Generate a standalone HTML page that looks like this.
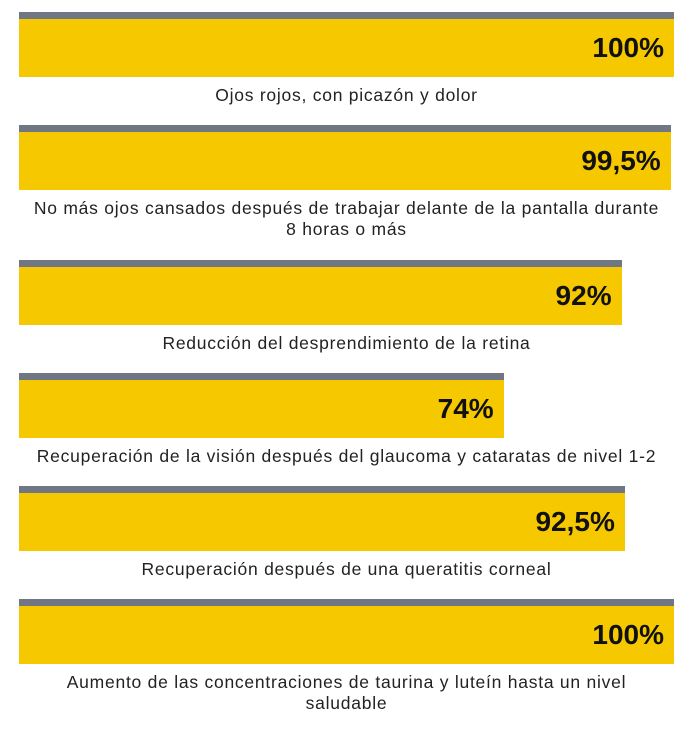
<!DOCTYPE html>
<html><head><meta charset="utf-8"><style>
body{margin:0;background:#fff;width:700px;height:738px;overflow:hidden;font-family:"Liberation Sans",sans-serif;}
#chart{position:relative;width:700px;height:738px;}
.stripe{position:absolute;height:7px;background:#717684;}
.bar{position:absolute;height:58px;background:#f5c800;}
.val{position:absolute;font-weight:bold;font-size:28px;color:#111;text-align:right;line-height:58px;}
.lab{position:absolute;left:9px;width:675px;text-align:center;font-size:17.5px;letter-spacing:0.75px;color:#222;line-height:21px;white-space:nowrap;}
</style></head><body>
<div id="chart"></div>
<script>
const categories=["Ojos rojos, con picazón y dolor","No más ojos cansados después de trabajar delante de la pantalla durante|8 horas o más","Reducción del desprendimiento de la retina","Recuperación de la visión después del glaucoma y cataratas de nivel 1-2","Recuperación después de una queratitis corneal","Aumento de las concentraciones de taurina y luteín hasta un nivel|saludable"];
const values=[100,99.5,92,74,92.5,100];
const valueLabels=["100%","99,5%","92%","74%","92,5%","100%"];
const tops=[12,125,260,373,486,599];
const X0=19,W=655;
function xScale(v){return W*v/100;}
const c=document.getElementById('chart');
values.forEach((v,i)=>{
  const w=xScale(v),t=tops[i];
  const s=document.createElement('div');s.className='stripe';
  s.style.cssText=`left:${X0}px;top:${t}px;width:${w}px`;
  
  
  c.appendChild(s);
  const b=document.createElement('div');b.className='bar';
  b.style.cssText=`left:${X0}px;top:${t+7}px;width:${w}px`;
  
  
  c.appendChild(b);
  const l=document.createElement('div');l.className='val';
  l.style.cssText=`left:${X0}px;top:${t+7}px;width:${w-10}px`;
  l.textContent=valueLabels[i];
  
  
  c.appendChild(l);
  const lb=document.createElement('div');lb.className='lab';
  lb.style.top=(t+73)+'px';
  categories[i].split('|').forEach((line,k)=>{
    if(k>0)lb.appendChild(document.createElement('br'));
    lb.appendChild(document.createTextNode(line));
  });
  
  
  c.appendChild(lb);
});
</script>
</body></html>
